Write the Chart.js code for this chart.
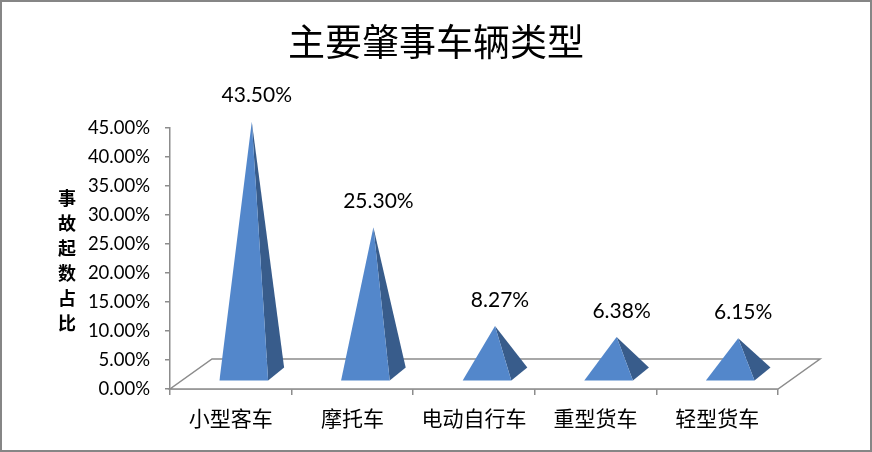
<!DOCTYPE html>
<html>
<head>
<meta charset="utf-8">
<title>主要肇事车辆类型</title>
<script src="https://cdn.jsdelivr.net/npm/chart.js@4.4.1/dist/chart.umd.min.js"></script>
<style>
    html, body { margin: 0; padding: 0; background: #fff; }
    .chart-box { width: 872px; height: 452px; position: relative; }
</style>
</head>
<body>
<div class="chart-box"><canvas id="vehicleChart"></canvas></div>
<script>
// Datos del gráfico
const categories = ['小型客车', '摩托车', '电动自行车', '重型货车', '轻型货车'];
const shares = [43.50, 25.30, 8.27, 6.38, 6.15];
const yTicks = [0, 5, 10, 15, 20, 25, 30, 35, 40, 45];
const chartTitle = '主要肇事车辆类型';
const yTitle = ['事', '故', '起', '数', '占', '比'];

const LATIN = 'Lato, "Noto Sans CJK SC", sans-serif';
const CJK = '"Noto Sans CJK SC", sans-serif';

// floor depth and pyramid depth (px)
const FLOOR_DX = 42, FLOOR_DY = 30;
const PYR_DX = 8, PYR_DY = 6.5;

const pyramidPlugin = {
    id: 'pyramids',
    beforeDatasetsDraw(chart) {
        const { ctx, chartArea: a } = chart;
        // outer border
        ctx.save();
        ctx.strokeStyle = '#868686';
        ctx.lineWidth = 2;
        ctx.strokeRect(1, 1, chart.width - 2, chart.height - 2);

        // 3D floor
        ctx.strokeStyle = '#8c8c8c';
        ctx.lineWidth = 1.5;
        ctx.fillStyle = '#ffffff';
        ctx.beginPath();
        ctx.moveTo(a.left, a.bottom);
        ctx.lineTo(a.right, a.bottom);
        ctx.lineTo(a.right + FLOOR_DX, a.bottom - FLOOR_DY);
        ctx.lineTo(a.left + FLOOR_DX, a.bottom - FLOOR_DY);
        ctx.closePath();
        ctx.fill();
        ctx.stroke();

        // title
        ctx.fillStyle = '#000';
        ctx.font = '37px ' + CJK;
        ctx.textAlign = 'center';
        ctx.textBaseline = 'middle';
        ctx.fillText(chartTitle, chart.width / 2, 42);

        // vertical axis title, one char per line
        ctx.font = 'bold 18px ' + CJK;
        yTitle.forEach((ch, i) => ctx.fillText(ch, 67, 198 + i * 25));
        ctx.restore();
    },
    afterDatasetsDraw(chart) {
        const { ctx } = chart;
        const yScale = chart.scales.y;
        const meta = chart.getDatasetMeta(0);
        const base = yScale.getPixelForValue(0) - FLOOR_DY / 2;

        ctx.save();
        meta.data.forEach((bar, i) => {
            const cx = bar.x + FLOOR_DX / 2;
            const half = bar.width / 2;
            const apexY = yScale.getPixelForValue(shares[i]) - FLOOR_DY / 2;
            const fl = [cx - half - PYR_DX, base + PYR_DY];
            const fr = [cx + half - PYR_DX, base + PYR_DY];
            const br = [cx + half + PYR_DX, base - PYR_DY];

            // right face
            ctx.fillStyle = '#385c8b';
            ctx.beginPath();
            ctx.moveTo(fr[0], fr[1]);
            ctx.lineTo(br[0], br[1]);
            ctx.lineTo(cx, apexY);
            ctx.closePath();
            ctx.fill();

            // front face
            ctx.fillStyle = '#5387cb';
            ctx.beginPath();
            ctx.moveTo(fl[0], fl[1]);
            ctx.lineTo(fr[0], fr[1]);
            ctx.lineTo(cx, apexY);
            ctx.closePath();
            ctx.fill();

            // value label
            ctx.fillStyle = '#000';
            ctx.font = '21px ' + LATIN;
            ctx.textAlign = 'center';
            ctx.textBaseline = 'middle';
            ctx.fillText(shares[i].toFixed(2) + '%', cx + 5, apexY - 26);
        });
        ctx.restore();
    }
};

document.addEventListener('DOMContentLoaded', function() {
    const ctx = document.getElementById('vehicleChart').getContext('2d');
    new Chart(ctx, {
        type: 'bar',
        data: {
            labels: categories,
            datasets: [{
                data: shares,
                backgroundColor: 'rgba(0,0,0,0)',
                borderWidth: 0,
                barPercentage: 0.4,
                categoryPercentage: 1.0
            }]
        },
        options: {
            responsive: true,
            maintainAspectRatio: false,
            animation: false,
            layout: { padding: { left: 0, right: 94, top: 128, bottom: 0 } },
            plugins: {
                legend: { display: false },
                tooltip: { enabled: false }
            },
            scales: {
                y: {
                    min: yTicks[0],
                    max: yTicks[yTicks.length - 1],
                    afterFit(scale) { scale.width = 170; },
                    afterBuildTicks(scale) { scale.ticks = yTicks.map(v => ({ value: v })); },
                    grid: {
                        drawOnChartArea: false,
                        drawTicks: true,
                        tickLength: 5,
                        color: '#8c8c8c',
                        lineWidth: 1.5
                    },
                    border: { display: true, color: '#8c8c8c', width: 1.5 },
                    ticks: {
                        padding: 15,
                        color: '#000',
                        font: { family: LATIN, size: 18.5 },
                        callback: v => v.toFixed(2) + '%'
                    }
                },
                x: {
                    afterFit(scale) { scale.height = 63; },
                    grid: {
                        offset: true,
                        drawOnChartArea: false,
                        drawTicks: true,
                        tickLength: 6,
                        color: '#8c8c8c',
                        lineWidth: 1.5
                    },
                    border: { display: true, color: '#8c8c8c', width: 1.5 },
                    ticks: {
                        padding: 10,
                        color: '#000',
                        maxRotation: 0,
                        font: { family: CJK, size: 21 }
                    }
                }
            }
        },
        plugins: [pyramidPlugin]
    });
});
</script>
</body>
</html>
